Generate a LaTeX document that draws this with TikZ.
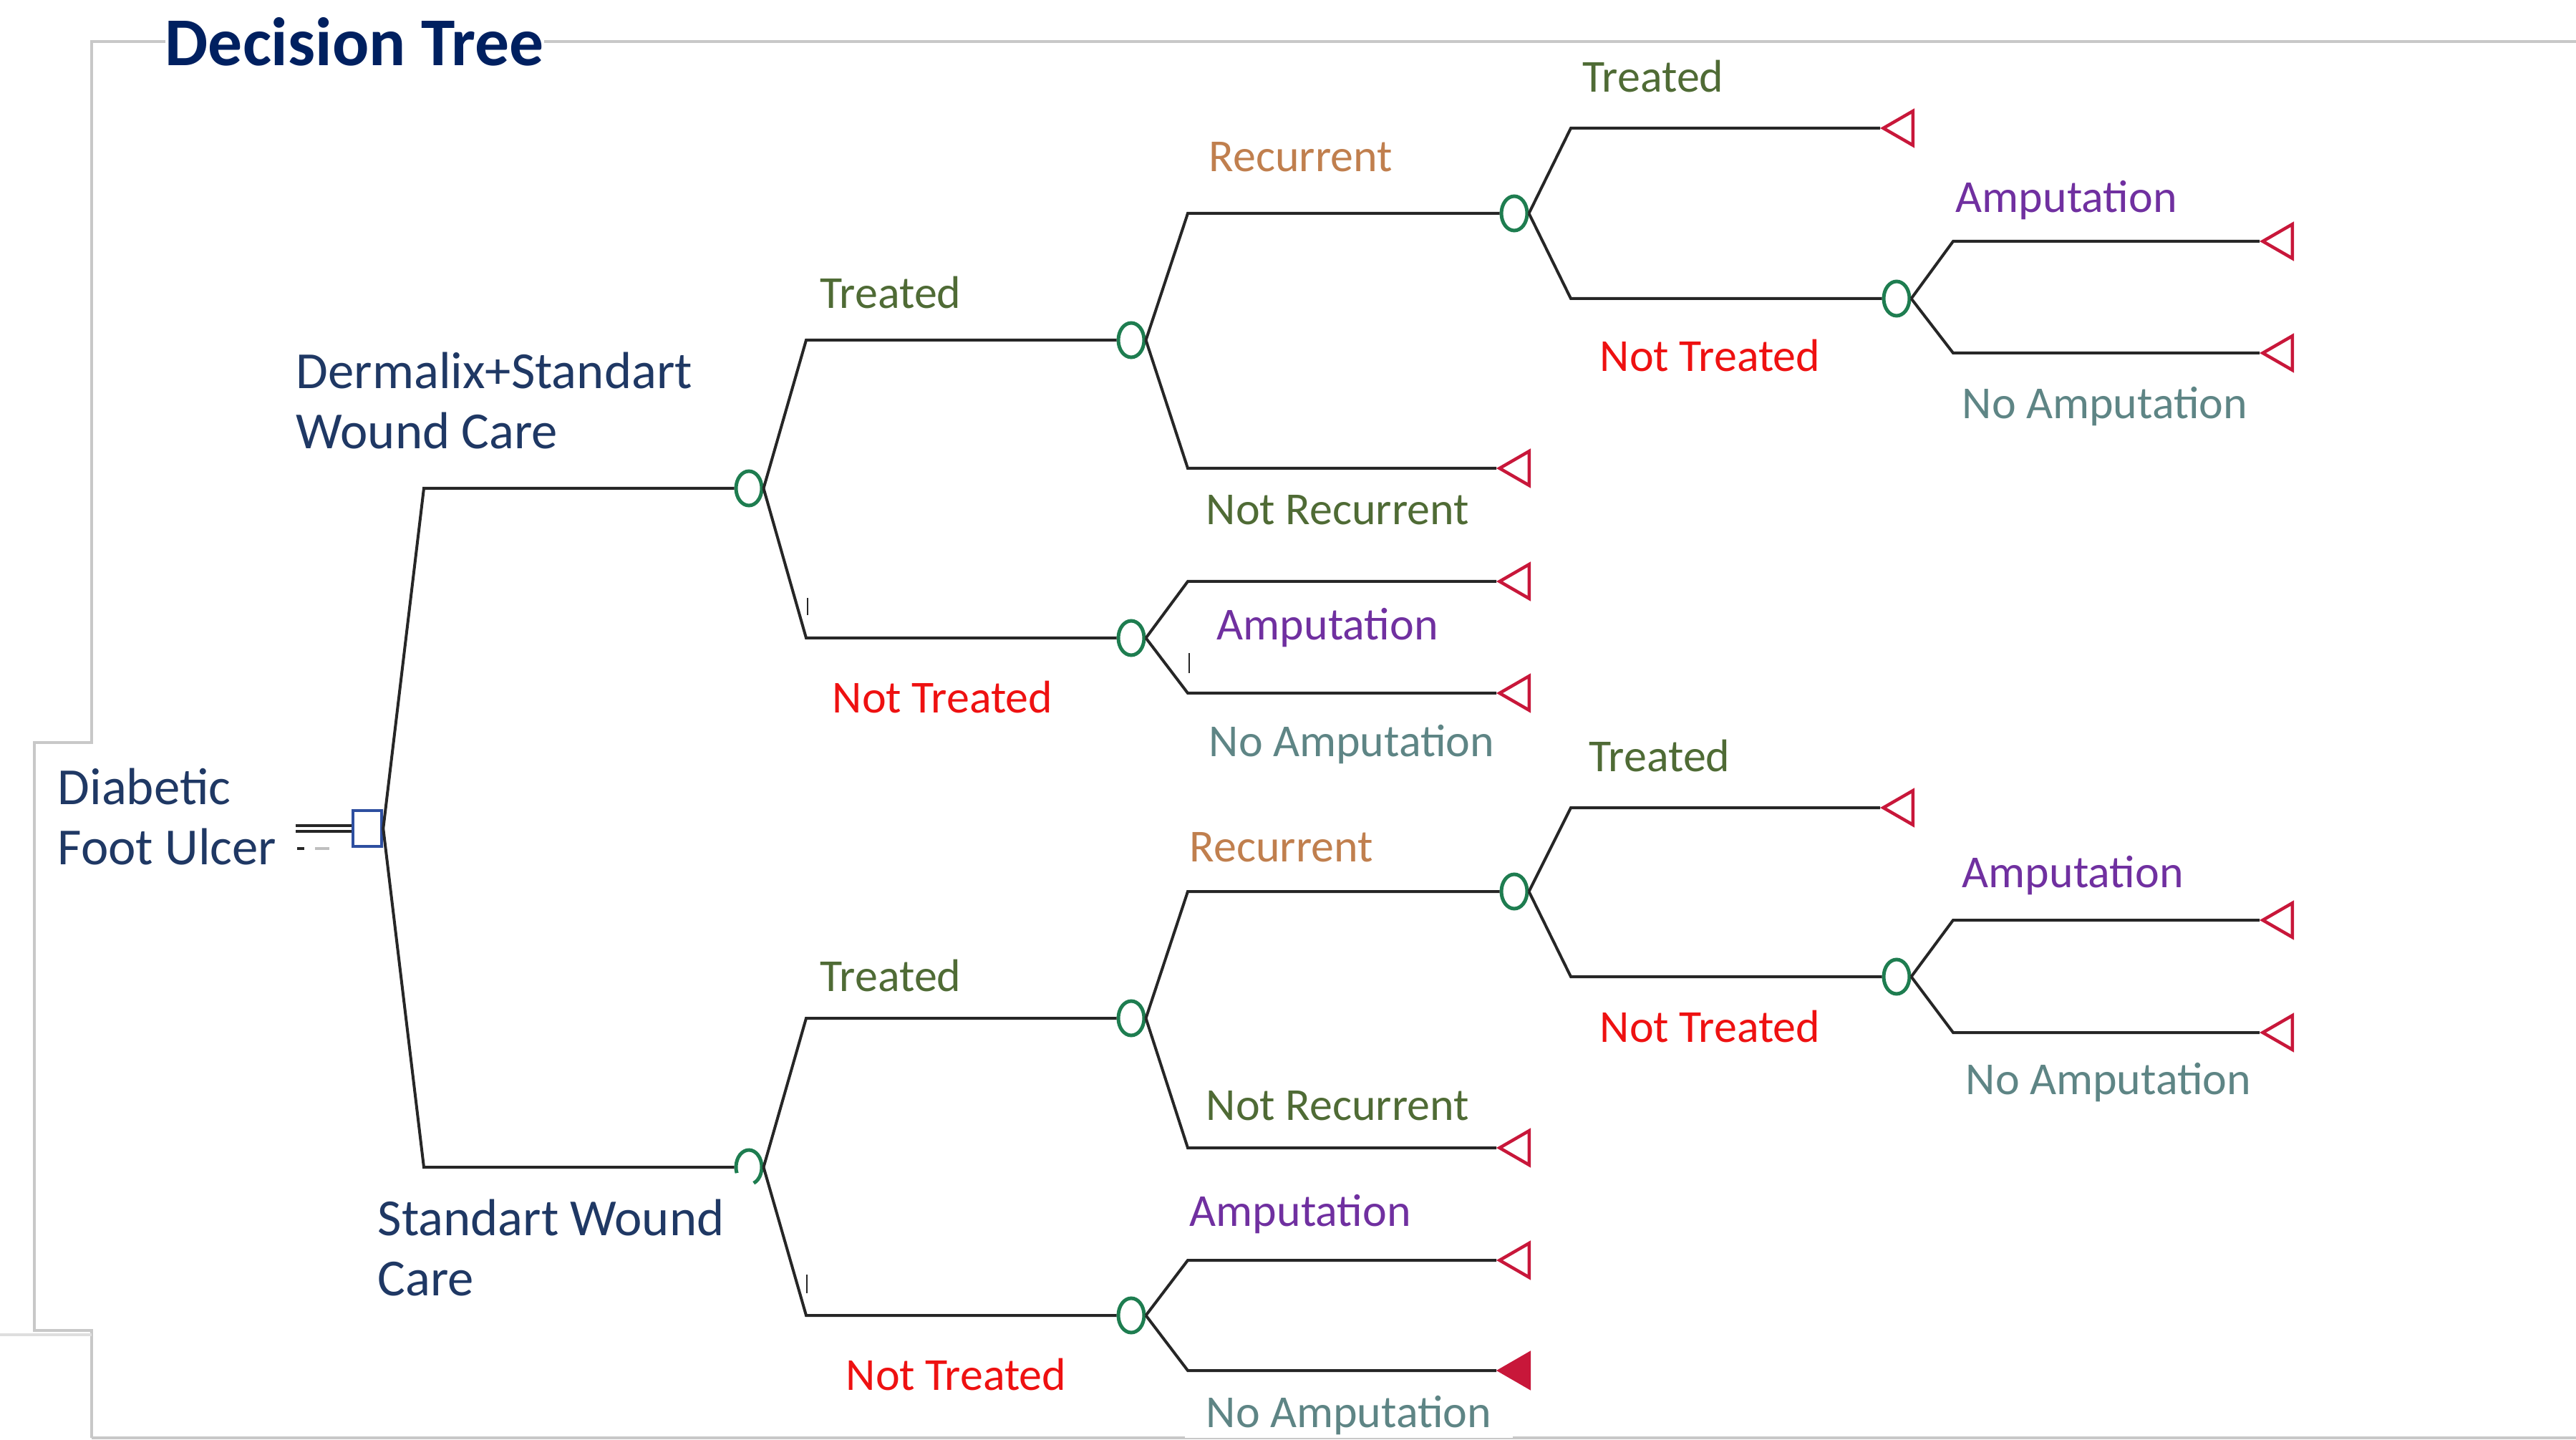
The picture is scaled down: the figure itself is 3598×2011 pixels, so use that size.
\documentclass[tikz,border=0pt]{standalone}
\usepackage{fontspec}
\setmainfont{Carlito}
\usetikzlibrary{shapes.geometric}
\definecolor{titlenavy}{HTML}{002060}
\definecolor{nodenavy}{HTML}{1F3864}
\definecolor{treatgreen}{HTML}{4F6B35}
\definecolor{recurbrown}{HTML}{C07F4E}
\definecolor{nottreatred}{HTML}{EE1111}
\definecolor{amppurple}{HTML}{7030A0}
\definecolor{noampgray}{HTML}{5E8585}
\definecolor{chancegreen}{HTML}{1E7D50}
\definecolor{termred}{HTML}{C8173A}
\definecolor{choiceblue}{HTML}{2E4FA0}
\definecolor{framegray}{HTML}{C8C8C8}

\begin{document}
\begin{tikzpicture}[
  x=0.1mm,
  y=-0.1mm,
  choice/.style={
    draw=choiceblue,
    fill=white,
    line width=0.45mm,
    minimum width=4mm,
    minimum height=5mm,
    inner sep=0pt
  },
  chance/.style={
    ellipse,
    draw=chancegreen,
    line width=0.5mm,
    minimum width=3.6mm,
    minimum height=4.8mm,
    inner sep=0pt
  },
  terminal/.style={
    regular polygon,
    regular polygon sides=3,
    shape border rotate=90,
    draw=termred,
    line width=0.45mm,
    minimum size=5.5mm,
    inner sep=0pt
  },
  edge/.style={draw=black!85,line width=.4mm},
  frame/.style={draw=framegray,line width=.35mm},
  lbl/.style={anchor=base west,inner sep=0pt,font=\fontsize{18.2pt}{22pt}\selectfont},
  stage/.style={anchor=base west,inner sep=0pt,align=left,text=nodenavy,
    font=\fontsize{20.7pt}{23.9pt}\selectfont}
]
  \useasboundingbox (0,0) rectangle (3598,2011);

  % frame
  \draw[frame] (128,2008) -- (128,1858) -- (48,1858) -- (48,1037)
    -- (128,1037) -- (128,58) -- (3598,58);
  \draw[frame] (128,2008) -- (3598,2008);
  \draw[frame,draw=framegray!60] (0,1864) -- (128,1864);

  \node[anchor=base west,inner sep=0pt,fill=white,text=titlenavy,
    font=\bfseries\fontsize{27.2pt}{30pt}\selectfont] (title) at (230,92) {Decision Tree};

  % columns of the bends
  \coordinate (k0) at (592,0);
  \coordinate (k1) at (1126,0);
  \coordinate (k2) at (1659,0);
  \coordinate (k3) at (2194,0);
  \coordinate (k4) at (2728,0);

  % decision and chance nodes
  \node[choice] (sq) at (513,1157) {};
  \node[chance] (c1) at (1046,682) {};
  \node[chance,draw=none] (c8) at (1046,1630) {};
  \node[chance] (c2) at (1580,475) {};
  \node[chance] (c3) at (1580,891) {};
  \node[chance] (c6) at (1580,1422) {};
  \node[chance] (c9) at (1580,1837) {};
  \node[chance] (c4) at (2115,298) {};
  \node[chance] (c7) at (2115,1245) {};
  \node[chance] (c5) at (2649,417) {};
  \node[chance] (c10) at (2649,1364) {};
  \draw[draw=chancegreen,line width=.5mm]
    ([shift={(-68:1.8mm and 2.4mm)}]c8.center)
    arc[start angle=-68,end angle=200,x radius=1.8mm,y radius=2.4mm];

  % terminal nodes
  \node[terminal] (t1) at (2658,179) {};
  \node[terminal] (t2) at (3188,337) {};
  \node[terminal] (t3) at (3188,493) {};
  \node[terminal] (t4) at (2122,654) {};
  \node[terminal] (t5) at (2122,812) {};
  \node[terminal] (t6) at (2122,968) {};
  \node[terminal] (t7) at (2658,1128) {};
  \node[terminal] (t8) at (3188,1285) {};
  \node[terminal] (t9) at (3188,1442) {};
  \node[terminal] (t10) at (2122,1603) {};
  \node[terminal] (t11) at (2122,1760) {};
  \node[terminal,fill=termred] (t12) at (2122,1914) {};

  % branches
  \draw[edge] (sq.east) -- (k0 |- c1) -- (c1);
  \draw[edge] (sq.east) -- (k0 |- c8) -- (c8);
  \draw[edge] (c1.east) -- (k1 |- c2) -- (c2);
  \draw[edge] (c1.east) -- (k1 |- c3) -- (c3);
  \draw[edge] (c8.east) -- (k1 |- c6) -- (c6);
  \draw[edge] (c8.east) -- (k1 |- c9) -- (c9);
  \draw[edge] (c2.east) -- (k2 |- c4) -- (c4);
  \draw[edge] (c2.east) -- (k2 |- t4) -- (t4);
  \draw[edge] (c3.east) -- (k2 |- t5) -- (t5);
  \draw[edge] (c3.east) -- (k2 |- t6) -- (t6);
  \draw[edge] (c6.east) -- (k2 |- c7) -- (c7);
  \draw[edge] (c6.east) -- (k2 |- t10) -- (t10);
  \draw[edge] (c9.east) -- (k2 |- t11) -- (t11);
  \draw[edge] (c9.east) -- (k2 |- t12) -- (t12);
  \draw[edge] (c4.east) -- (k3 |- t1) -- (t1);
  \draw[edge] (c4.east) -- (k3 |- c5) -- (c5);
  \draw[edge] (c7.east) -- (k3 |- t7) -- (t7);
  \draw[edge] (c7.east) -- (k3 |- c10) -- (c10);
  \draw[edge] (c5.east) -- (k4 |- t2) -- (t2);
  \draw[edge] (c5.east) -- (k4 |- t3) -- (t3);
  \draw[edge] (c10.east) -- (k4 |- t8) -- (t8);
  \draw[edge] (c10.east) -- (k4 |- t9) -- (t9);

  % stray marks
  \draw[edge] ([yshift=.4mm]sq.west) -- ++(-78,0);
  \draw[edge] ([yshift=-.4mm]sq.west) -- ++(-78,0);
  \draw[edge] (415,1185) -- (425,1185);
  \draw[edge,draw=black!25] (440,1185) -- (460,1185);
  \draw[edge,line width=.25mm] (1128,835) -- (1128,859);
  \draw[edge,line width=.25mm] (1661,912) -- (1661,940);
  \draw[edge,line width=.25mm] (1127,1780) -- (1127,1806);

  % stage labels
  \node[stage] (ldfu) at (80,1207) {Diabetic\\Foot Ulcer};
  \node[stage] (ldsw) at (413,627) {Dermalix+Standart\\Wound Care};
  \node[stage] (lswc) at (527,1809) {Standart Wound\\Care};

  % branch labels
  \node[lbl,text=treatgreen] (lt1) at (1145,431) {Treated};
  \node[lbl,text=nottreatred] (lnt1) at (1162,996) {Not Treated};
  \node[lbl,text=recurbrown] (lr1) at (1688,240) {Recurrent};
  \node[lbl,text=treatgreen] (lnr1) at (1684,733) {Not Recurrent};
  \node[lbl,text=amppurple] (la1) at (1699,894) {Amputation};
  \node[lbl,text=noampgray] (lna1) at (1688,1056) {No Amputation};
  \node[lbl,text=treatgreen] (lt2) at (2210,129) {Treated};
  \node[lbl,text=nottreatred] (lnt2) at (2234,519) {Not Treated};
  \node[lbl,text=amppurple] (la2) at (2731,297) {Amputation};
  \node[lbl,text=noampgray] (lna2) at (2740,585) {No Amputation};

  \node[lbl,text=treatgreen] (lt3) at (2219,1077) {Treated};
  \node[lbl,text=recurbrown] (lr2) at (1661,1203) {Recurrent};
  \node[lbl,text=amppurple] (la3) at (2740,1239) {Amputation};
  \node[lbl,text=nottreatred] (lnt3) at (2234,1455) {Not Treated};
  \node[lbl,text=noampgray] (lna3) at (2745,1528) {No Amputation};
  \node[lbl,text=treatgreen] (lt4) at (1145,1384) {Treated};
  \node[lbl,text=treatgreen] (lnr2) at (1684,1564) {Not Recurrent};
  \node[lbl,text=amppurple] (la4) at (1661,1712) {Amputation};
  \node[lbl,text=nottreatred] (lnt4) at (1181,1941) {Not Treated};
  \node[lbl,text=noampgray,fill=white,inner xsep=3mm,inner ysep=.5mm] (lna4) at (1654,1993) {No Amputation};
\end{tikzpicture}
\end{document}
